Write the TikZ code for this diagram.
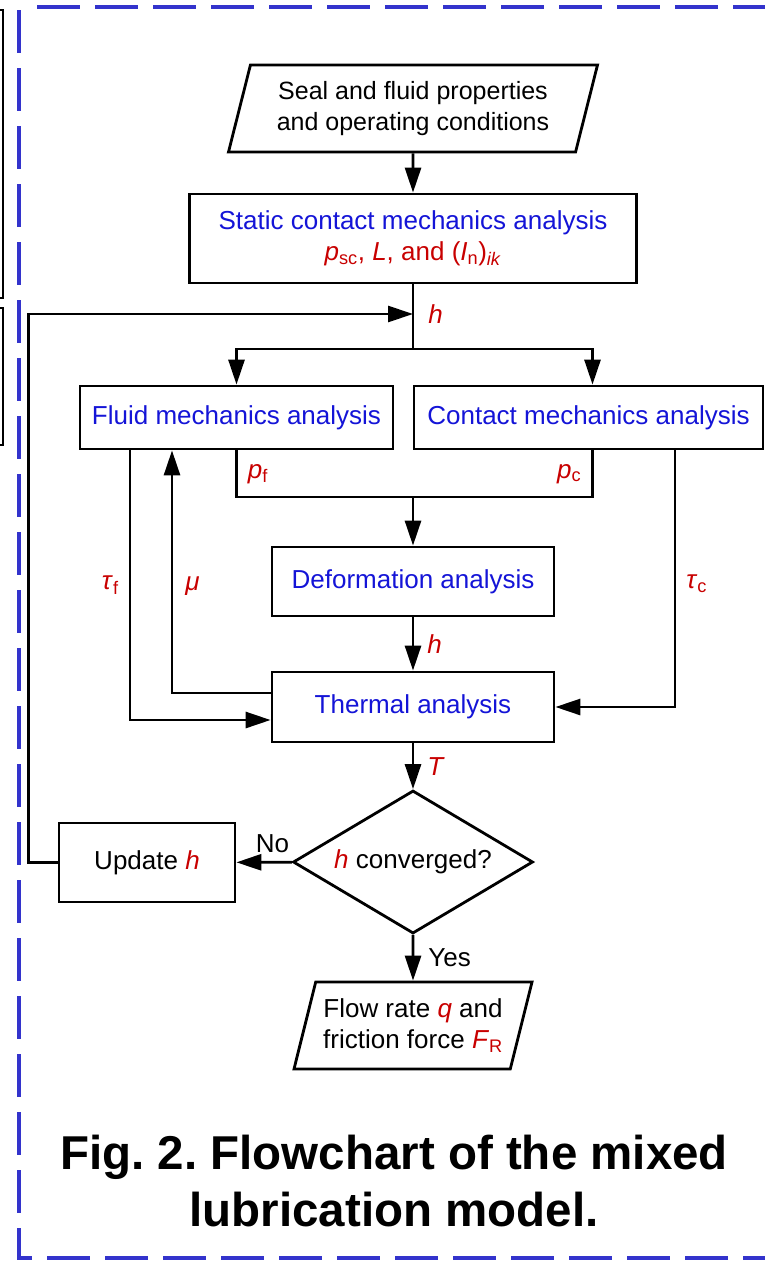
\documentclass[tikz,border=0pt]{standalone}
\usepackage{fontspec}
\setmainfont{Liberation Sans}
\usetikzlibrary{shapes.geometric,arrows.meta}
\definecolor{fcblue}{RGB}{20,20,215}
\definecolor{fcred}{RGB}{200,0,0}
\definecolor{framecol}{RGB}{51,51,204}
\newcommand{\rv}[1]{\textcolor{fcred}{\textit{#1}}}
\frenchspacing

\begin{document}
\begin{tikzpicture}[x=1pt,y=-1pt,
 fcbox/.style={draw,line width=2.8pt,inner sep=0pt,font=\fontsize{26}{31}\selectfont,align=center},
 proc/.style={fcbox,text=fcblue},
 io/.style={fcbox,font=\fontsize{25}{31}\selectfont,trapezium,trapezium left angle=68,trapezium right angle=112,trapezium stretches body,minimum height=87pt},
 wire/.style={line width=2.8pt},
 arr/.style={wire,-{Triangle[length=25pt,width=16pt]}},
 lbl/.style={font=\fontsize{26}{31}\selectfont,text=fcred,inner sep=0pt},
 txt/.style={font=\fontsize{26}{31}\selectfont,inner sep=0pt}]
\useasboundingbox (0,0) rectangle (765,1261);
\clip (0,0) rectangle (765,1261);
\draw[line width=1.5pt] (-20,10) rectangle (3,298) (-20,308) rectangle (3,445);
\draw[framecol,line width=4pt,dash pattern=on 43pt off 15pt] (37,7) -- (800,7);
\draw[framecol,line width=4pt,dash pattern=on 43pt off 15pt] (19,10) -- (19,1258) -- (800,1258);

\node[io,minimum width=369pt] (input) at (413,108.5) {Seal and fluid properties\\and operating conditions};
\node[proc,minimum width=447pt,minimum height=89pt] (static) at (413,238.5) {Static contact mechanics analysis\\\textcolor{fcred}{\textit{p}\textsubscript{sc}, \textit{L}, and (\textit{I}\textsubscript{n})\textsubscript{\textit{ik}}}};
\node[proc,minimum width=313pt,minimum height=63pt] (fluid) at (236.5,417.5) {Fluid mechanics analysis};
\node[proc,minimum width=349pt,minimum height=63pt] (contact) at (588.5,417.5) {Contact mechanics analysis};
\node[proc,minimum width=282pt,minimum height=69pt] (deform) at (413,581.5) {Deformation analysis};
\node[proc,minimum width=282pt,minimum height=70pt] (thermal) at (413,707) {Thermal analysis};
\node[fcbox,diamond,aspect=1.68,minimum width=240pt,minimum height=143pt] (conv) at (413,862) {\rv{h} converged?};
\node[fcbox,minimum width=176pt,minimum height=79pt] (update) at (147,862.5) {Update \rv{h}};
\node[io,font=\fontsize{26}{31}\selectfont,minimum width=238pt] (output) at (413,1025.5) {Flow rate \rv{q} and\\friction force \textcolor{fcred}{\textit{F}\textsubscript{R}}};
\node[font=\fontsize{47.5}{57}\selectfont\bfseries,align=center,inner sep=0pt] (caption) at (394,1181) {Fig. 2. Flowchart of the mixed\\lubrication model.};

\coordinate (hin) at (413,314);
\coordinate (split) at (413,349);
\coordinate (join) at (413,497);

\draw[arr] (input) -- (static);
\draw[wire] (static) -- (split);
\draw[arr] (split) -| (fluid.north);
\draw[arr] (split) -| ([xshift=4pt]contact.north);
\draw[arr] (update.west) -- ++(-29,0) |- (hin) node[lbl,right=14pt] {\textit{h}};
\draw[wire] (fluid.south) |- node[lbl,right=10pt,pos=0.25] {\textit{p}\textsubscript{f}} (join) -| node[lbl,left=10pt,pos=0.75] {\textit{p}\textsubscript{c}} ([xshift=4pt]contact.south);
\draw[arr] (join) -- (deform);
\draw[arr] (deform) -- node[lbl,right=13pt] {\textit{h}} (thermal);
\draw[arr] ([xshift=-106.5pt]fluid.south) |- node[lbl,left=10pt,pos=0.25] {\textit{τ}\textsubscript{f}} ([yshift=-13pt]thermal.west);
\draw[arr] ([yshift=14pt]thermal.west) -| node[lbl,right=12pt,pos=0.72] {\textit{μ}} ([xshift=-64.5pt]fluid.south);
\draw[arr] ([xshift=86.5pt]contact.south) |- node[lbl,right=10pt,pos=0.26] {\textit{τ}\textsubscript{c}} (thermal.east);
\draw[arr] (thermal) -- node[lbl,right=13pt] {\textit{T}} (conv);
\draw[arr] (conv) -- node[txt,above=8pt,pos=0.35] {No} (update);
\draw[arr] (conv) -- node[txt,right=14pt] {Yes} (output);
\end{tikzpicture}
\end{document}
